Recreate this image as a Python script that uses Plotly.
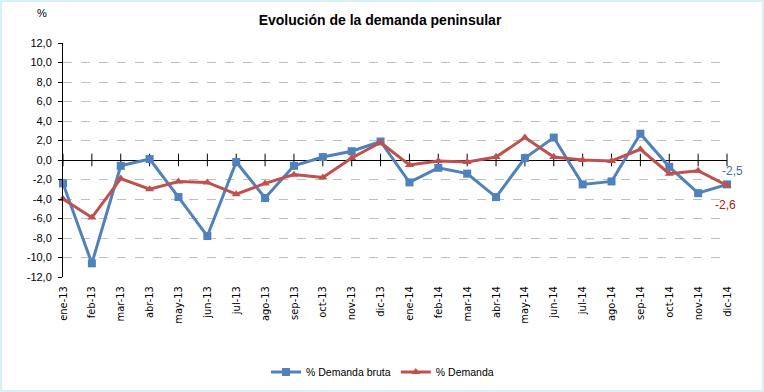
import plotly.graph_objects as go

months = ["ene-13","feb-13","mar-13","abr-13","may-13","jun-13","jul-13","ago-13","sep-13","oct-13","nov-13","dic-13",
          "ene-14","feb-14","mar-14","abr-14","may-14","jun-14","jul-14","ago-14","sep-14","oct-14","nov-14","dic-14"]
demanda_bruta = [-2.4,-10.6,-0.6,0.1,-3.8,-7.8,-0.2,-3.9,-0.6,0.3,0.9,1.9,
                 -2.3,-0.8,-1.4,-3.8,0.2,2.3,-2.5,-2.2,2.7,-0.7,-3.4,-2.5]
demanda = [-4.0,-5.9,-1.9,-3.0,-2.2,-2.3,-3.5,-2.4,-1.5,-1.8,0.2,1.8,
           -0.5,-0.1,-0.2,0.3,2.3,0.3,0.0,-0.1,1.1,-1.4,-1.1,-2.6]
y_ticks = [-12,-10,-8,-6,-4,-2,0,2,4,6,8,10,12]
y_tick_labels = [f"{v:.1f}".replace(".", ",") for v in y_ticks]

BLUE = "#4F81BD"
RED = "#C0504D"
FONT = "Liberation Sans, Arial, sans-serif"
NARROW = "Liberation Sans Narrow, Arial Narrow, DejaVu Sans Condensed, sans-serif"

fig = go.Figure()
# category tick marks on the zero axis line
fig.add_trace(go.Scatter(x=months, y=[0]*len(months), mode="markers",
                         marker=dict(symbol="line-ns", size=9, line=dict(color="black", width=1)),
                         showlegend=False, hoverinfo="skip", cliponaxis=False))
fig.add_trace(go.Scatter(x=months, y=demanda_bruta, name="% Demanda bruta", mode="lines+markers",
                         line=dict(color=BLUE, width=3),
                         marker=dict(symbol="square", size=8, color=BLUE), cliponaxis=False))
fig.add_trace(go.Scatter(x=months, y=demanda, name="% Demanda", mode="lines+markers",
                         line=dict(color=RED, width=3),
                         marker=dict(symbol="triangle-up", size=8, color=RED), cliponaxis=False))

fig.add_annotation(x=months[-1], y=demanda_bruta[-1], text=f"{demanda_bruta[-1]:.1f}".replace(".", ","),
                   showarrow=False, xanchor="left", yshift=13, xshift=-7,
                   font=dict(family=FONT, size=12, color="#4A6F8F"))
fig.add_annotation(x=months[-1], y=demanda[-1], text=f"{demanda[-1]:.1f}".replace(".", ","),
                   showarrow=False, xanchor="right", yshift=-20, xshift=11,
                   font=dict(family=FONT, size=12, color="#B02020"))
fig.add_annotation(xref="paper", yref="paper", x=-0.0316, y=(277-13)/234, text="%", showarrow=False,
                   xanchor="center", yanchor="middle",
                   font=dict(family=FONT, size=11, color="black"))

# chart-area border
fig.add_shape(type="rect", xref="paper", yref="paper",
              x0=-62/664, x1=(763-63)/664, y0=(277-391)/234, y1=(277-1)/234,
              line=dict(color="#D6F0F5", width=2), fillcolor="rgba(0,0,0,0)", layer="below")

fig.update_layout(
    width=764, height=392,
    margin=dict(l=63, r=37, t=43, b=115, autoexpand=False),
    paper_bgcolor="white", plot_bgcolor="white",
    font=dict(family=FONT, size=11, color="black"),
    title=dict(text="<b>Evolución de la demanda peninsular</b>", x=380/764, xanchor="center",
               y=1-20/392, yanchor="middle", font=dict(family=FONT, size=14, color="black")),
    showlegend=True,
    legend=dict(orientation="h", x=(266-63)/664, xanchor="left", y=(277-372)/234, yanchor="middle",
                font=dict(family=FONT, size=10.5, color="black"), itemwidth=30),
    xaxis=dict(type="category", range=[0, 23], tickangle=-90, showgrid=False, zeroline=False,
               showline=False, ticks="", tickfont=dict(family=NARROW, size=11), automargin=False,
               ticklabelstandoff=6),
    yaxis=dict(range=[-12, 12], tickvals=y_ticks, ticktext=y_tick_labels,
               showgrid=True, gridcolor="#BFBFBF", griddash="dash", gridwidth=1,
               zeroline=True, zerolinecolor="black", zerolinewidth=1,
               showline=True, linecolor="black", linewidth=1, ticks="outside", ticklen=4,
               tickcolor="black", tickfont=dict(family=FONT, size=11), automargin=False,
               ticklabelstandoff=4),
)
fig.write_html("out.html", config={"displayModeBar": False},
               post_script="document.body.style.margin='0px';")
